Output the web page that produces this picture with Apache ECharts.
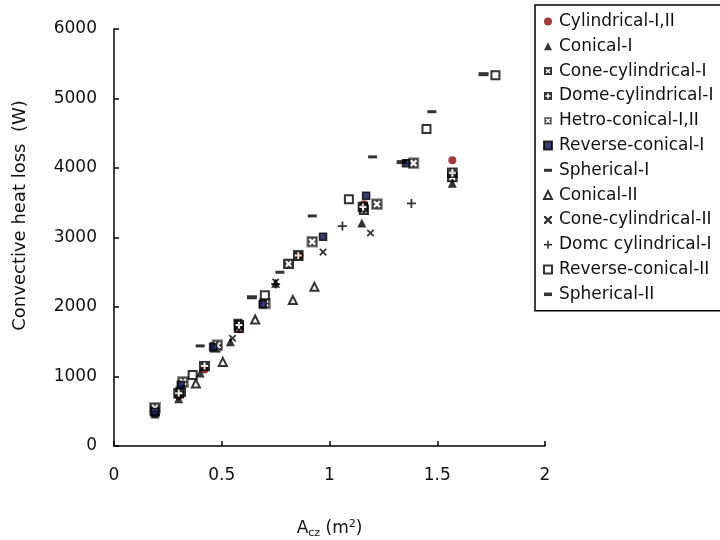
<!DOCTYPE html>
<html><head><meta charset="utf-8">
<script src="https://cdn.jsdelivr.net/npm/echarts@6/dist/echarts.min.js"></script>
<style>html,body{margin:0;padding:0;background:#fff}#c{width:720px;height:540px}</style>
</head><body><div id="c"></div>
<script>
// ---- data (x = A_cz in m^2, y = convective heat loss in W) ----
const xTicks = [0, 0.5, 1, 1.5, 2];
const yTicks = [0, 1000, 2000, 3000, 4000, 5000, 6000];
const seriesNames = ['Cylindrical-I,II','Conical-I','Cone-cylindrical-I','Dome-cylindrical-I','Hetro-conical-I,II','Reverse-conical-I','Spherical-I','Conical-II','Cone-cylindrical-II','Domc cylindrical-I','Reverse-conical-II','Spherical-II'];
const cylindrical = [[0.19,480],[0.30,720],[0.42,1100],[0.58,1680],[0.86,2740],[1.16,3480],[1.57,4110]];
const conicalI = [[0.19,460],[0.30,680],[0.40,1050],[0.54,1500],[0.75,2340],[1.15,3210],[1.57,3780]];
const coneCylI = [[0.19,500],[0.31,780],[0.47,1420],[0.58,1700],[0.81,2620],[1.16,3400],[1.57,3870]];
const domeCylI = [[0.19,520],[0.30,760],[0.42,1150],[0.58,1740],[0.855,2740],[1.155,3440],[1.57,3930]];
const hetroConical = [[0.19,550],[0.32,920],[0.48,1450],[0.70,2050],[0.92,2940],[1.22,3480],[1.39,4070]];
const reverseConicalI = [[0.19,490],[0.31,880],[0.46,1420],[0.69,2040],[0.97,3010],[1.17,3600],[1.355,4070]];
const sphericalI = [[0.40,1440],[0.575,1810],[0.77,2500],[0.92,3310],[1.20,4160],[1.475,4810]];
const conicalII = [[0.38,900],[0.505,1210],[0.655,1820],[0.83,2100],[0.93,2290]];
const coneCylII = [[0.55,1550],[0.75,2360],[0.97,2790],[1.19,3065]];
const domeCylII = [[0.75,2330],[1.06,3165],[1.38,3490]];
const reverseConicalII = [[0.365,1020],[0.70,2170],[1.09,3550],[1.45,4560],[1.77,5335]];
const sphericalII = [[0.64,2140],[1.335,4085],[1.715,5350]];

const FONT = 'DejaVu Sans, Liberation Sans, Arial, sans-serif';

function svgIcon(inner){
  return 'image://data:image/svg+xml;charset=utf-8,' + encodeURIComponent('<svg xmlns="http://www.w3.org/2000/svg" width="20" height="20" viewBox="0 0 10 10">' + inner + '</svg>');
}
const boxX = svgIcon('<rect width="10" height="10" fill="#000"/><path d="M2.6 2.6L7.4 7.4M7.4 2.6L2.6 7.4" stroke="#fff" stroke-width="1.9"/>');
const boxPlus = svgIcon('<rect width="10" height="10" fill="#000"/><path d="M5 1.8V8.2M1.8 5H8.2" stroke="#fff" stroke-width="1.9"/>');
const boxX2 = svgIcon('<rect x="0.5" y="0.5" width="9" height="9" fill="#111" stroke="#777" stroke-width="1"/><path d="M2.6 2.6L7.4 7.4M7.4 2.6L2.6 7.4" stroke="#fff" stroke-width="2"/>');
const plusPath = 'path://M4,0H6V4H10V6H6V10H4V6H0V4H4Z';

function mk(name, data, symbol, size, style, extra){
  return Object.assign({ name: name, type: 'scatter', data: data, symbol: symbol, symbolSize: size,
    itemStyle: style, emphasis: {disabled: true}, z: 3 }, extra || {});
}

const series = [
  mk(seriesNames[0], cylindrical, 'circle', 8, {color: '#8b0a0a'}),
  mk(seriesNames[1], conicalI, 'triangle', 9, {color: '#000'}),
  mk(seriesNames[2], coneCylI, boxX, 11, {color: '#000'}),
  mk(seriesNames[3], domeCylI, boxPlus, 11, {color: '#000'}),
  mk(seriesNames[4], hetroConical, boxX2, 12, {color: '#000'}),
  mk(seriesNames[5], reverseConicalI, 'rect', 7, {color: '#0b0b50', borderColor: '#000', borderWidth: 1.5}),
  mk(seriesNames[6], sphericalI, 'rect', [9, 3], {color: '#000'}),
  mk(seriesNames[7], conicalII, 'triangle', 8, {color: '#fff', borderColor: '#000', borderWidth: 2}),
  mk(seriesNames[8], coneCylII, plusPath, 9, {color: '#000'}, {symbolRotate: 45}),
  mk(seriesNames[9], domeCylII, plusPath, 9, {color: '#000'}),
  mk(seriesNames[10], reverseConicalII, 'rect', 8, {color: '#fff', borderColor: '#000', borderWidth: 2}),
  mk(seriesNames[11], sphericalII, 'rect', [10, 4], {color: '#000'})
];

const legendIcons = [
  'circle', 'triangle', boxX, boxPlus, boxX2, 'rect', 'path://M0,0H8V3H0Z', 'triangle', 'path://M1.5,0H2.5L4,1.5L5.5,0H6.5V1L5,2.5L6.5,4V5H5.5L4,3.5L2.5,5H1.5V4L3,2.5L1.5,1Z', plusPath, 'rect', 'path://M0,0H9V4H0Z'
];
const legendData = seriesNames.map(function(n, i){ return {name: n, icon: legendIcons[i]}; });

const chart = echarts.init(document.getElementById('c'), null, {renderer: 'canvas'});
chart.setOption({
  backgroundColor: '#fff',
  animation: false,
  textStyle: {fontFamily: FONT, color: '#111'},
  grid: {left: 114, right: 175, top: 29, bottom: 94, containLabel: false, outerBoundsMode: 'none'},
  legend: {
    orient: 'vertical', left: 535, top: 5,
    data: legendData,
    itemWidth: 8, itemHeight: 8, itemGap: 7.8,
    padding: [8, 40, 8, 8],
    borderColor: '#000', borderWidth: 1.5, backgroundColor: '#fff',
    selectedMode: false,
    textStyle: {fontSize: 17, color: '#111', fontFamily: FONT, lineHeight: 17, padding: [0,0,0,2]}
  },
  xAxis: {
    type: 'value', min: xTicks[0], max: xTicks[xTicks.length-1], interval: xTicks[1]-xTicks[0],
    name: 'A{sub|cz} (m{sup|2})', nameLocation: 'middle', nameGap: 72,
    nameTextStyle: {fontSize: 17, color: '#111', fontFamily: FONT, rich: {
      sub: {fontSize: 11, padding: [10, 0, 0, 0], color: '#111', fontFamily: FONT},
      sup: {fontSize: 11, padding: [0, 0, 9, 0], color: '#111', fontFamily: FONT}
    }},
    axisLine: {show: true, onZero: false, lineStyle: {color: '#000', width: 1.5}},
    axisTick: {show: true, inside: true, length: 5, lineStyle: {color: '#000', width: 1.5}},
    axisLabel: {fontSize: 17, color: '#111', fontFamily: FONT, margin: 21, formatter: function(v){ return String(v); }},
    splitLine: {show: false}
  },
  yAxis: {
    type: 'value', min: yTicks[0], max: yTicks[yTicks.length-1], interval: yTicks[1]-yTicks[0],
    name: 'Convective heat loss  (W)', nameLocation: 'middle', nameGap: 85, nameRotate: 90,
    nameTextStyle: {fontSize: 18, color: '#111', fontFamily: FONT, padding: [0, 0, 0, 44]},
    axisLine: {show: true, onZero: false, lineStyle: {color: '#000', width: 1.5}},
    axisTick: {show: true, inside: true, length: 5, lineStyle: {color: '#000', width: 1.5}},
    axisLabel: {fontSize: 17, color: '#111', fontFamily: FONT, margin: 17, formatter: function(v){ return String(v); }},
    splitLine: {show: false}
  },
  series: series
});
</script>
</body></html>
